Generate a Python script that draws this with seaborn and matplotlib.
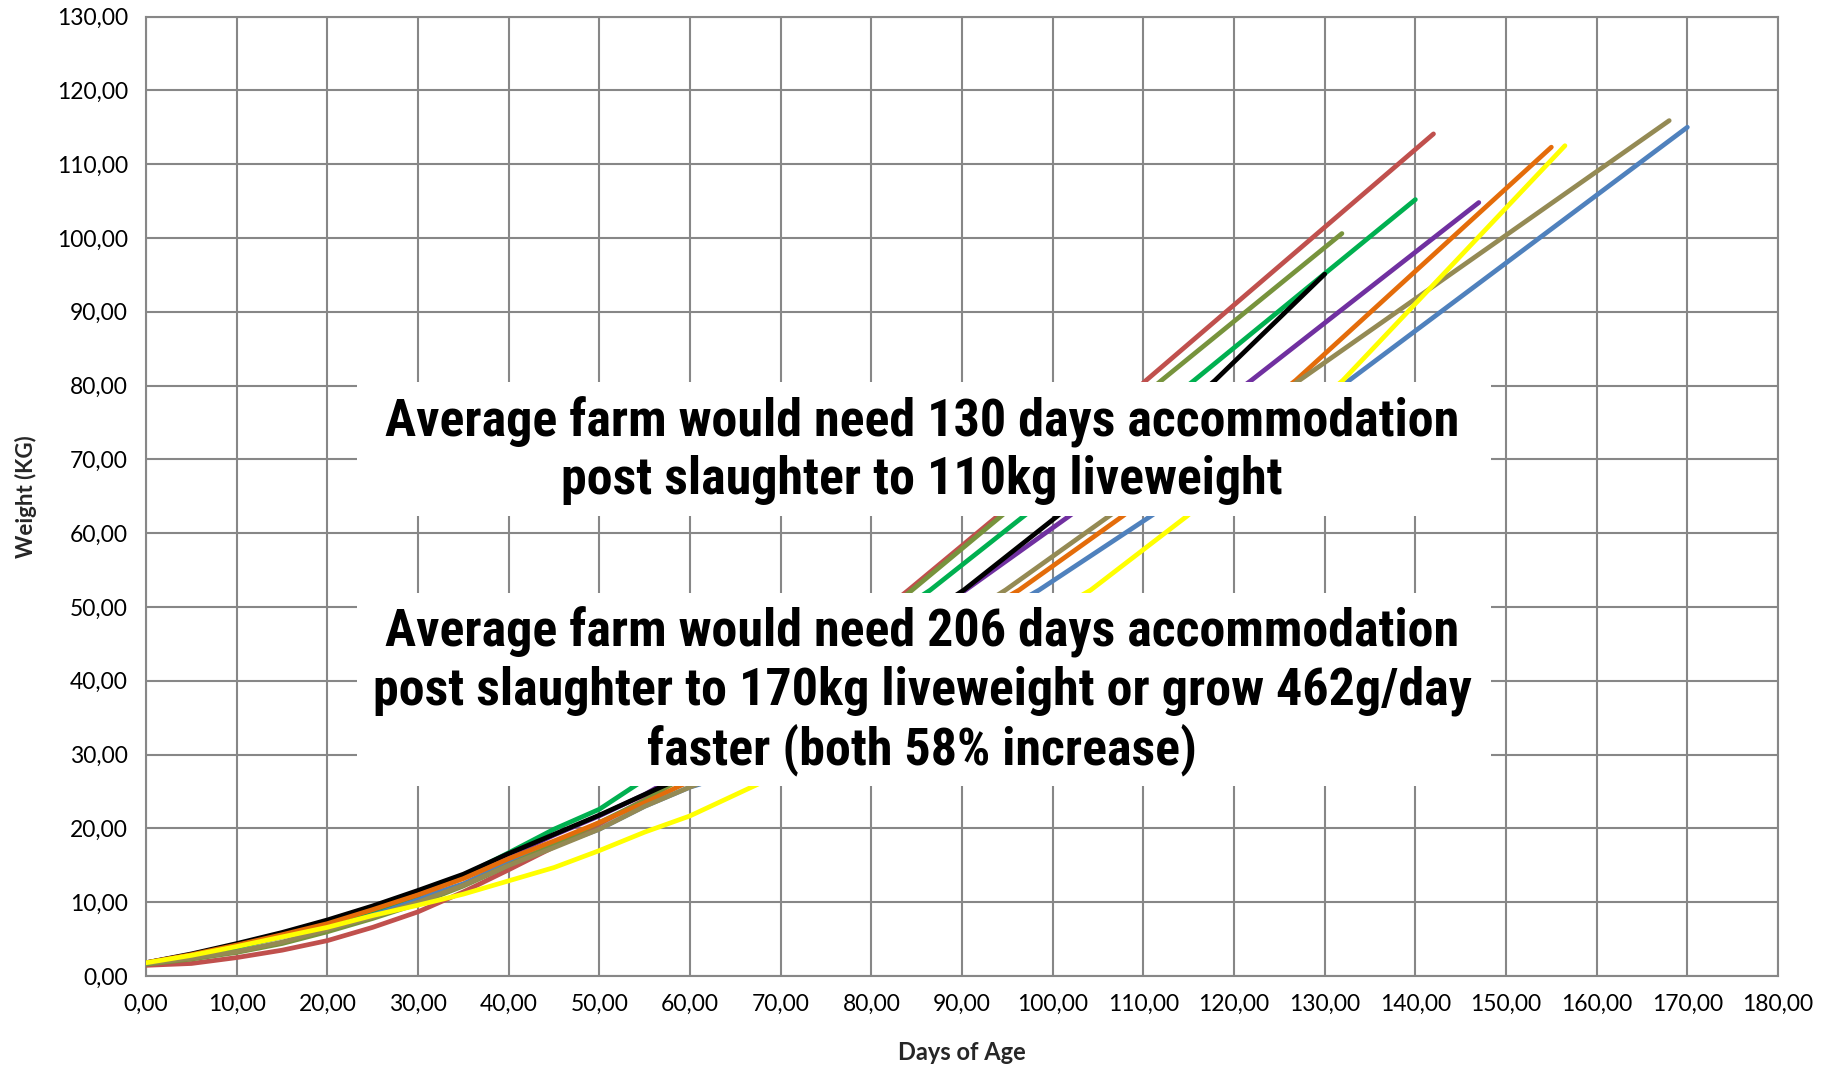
import os
import matplotlib
matplotlib.use("Agg")
import matplotlib.pyplot as plt
from matplotlib import font_manager as fm
from matplotlib.patches import Rectangle
from matplotlib.ticker import FuncFormatter, MultipleLocator
import pandas as pd
import seaborn as sns

# Growth curves per farm: (days of age, liveweight kg)
days_red = [0, 5, 10, 15, 20, 25, 30, 35, 40, 45, 50, 55, 57.5, 84.1, 93.9, 110.3, 142]
kg_red = [1.45, 1.7, 2.5, 3.5, 4.8, 6.6, 8.7, 11.4, 14.4, 17.5, 20.6, 23.9, 26.0, 52.3, 62.3, 80.7, 114.1]

days_olive = [0, 5, 10, 15, 20, 25, 30, 35, 40, 45, 50, 55, 58, 84.5, 94.3, 112.0, 131.9]
kg_olive = [1.6, 2.3, 3.2, 4.4, 6.0, 7.8, 9.8, 12.2, 15.0, 17.8, 20.8, 23.8, 26.0, 52.3, 62.3, 80.7, 100.6]

days_green = [0, 5, 10, 15, 20, 25, 30, 35, 40, 45, 50, 54.2, 86.5, 96.8, 115.6, 140]
kg_green = [1.7, 2.7, 3.9, 5.4, 7.0, 8.9, 11.0, 13.6, 16.7, 19.9, 22.6, 26.0, 52.3, 62.3, 80.7, 105.2]

days_black = [0, 5, 10, 15, 20, 25, 30, 35, 40, 45, 50, 55, 57.5, 90.2, 100.5, 117.9, 130]
kg_black = [1.8, 3.0, 4.4, 5.9, 7.6, 9.5, 11.6, 13.8, 16.6, 19.2, 21.8, 24.6, 26.0, 52.3, 62.3, 80.7, 95.1]

days_purple = [0, 5, 10, 15, 20, 25, 30, 35, 40, 45, 50, 55, 57.0, 90.4, 101.8, 121.9, 147]
kg_purple = [1.8, 2.9, 4.2, 5.7, 7.2, 9.1, 11.1, 13.4, 16.3, 19.1, 21.7, 24.6, 26.0, 52.3, 62.3, 80.7, 104.8]

days_tan = [0, 5, 10, 15, 20, 25, 30, 35, 40, 45, 50, 55, 60, 60.8, 94.8, 106.2, 127.2, 168]
kg_tan = [1.7, 2.4, 3.3, 4.6, 6.3, 8.0, 10.0, 12.3, 15.0, 17.4, 19.9, 23.0, 25.6, 26.0, 52.3, 62.3, 80.7, 115.9]

days_orange = [0, 5, 10, 15, 20, 25, 30, 35, 40, 45, 50, 55, 59.3, 96.3, 107.7, 126.8, 155]
kg_orange = [1.8, 2.9, 4.2, 5.6, 7.1, 9.0, 11.0, 13.2, 15.9, 18.3, 20.8, 23.5, 26.0, 52.3, 62.3, 80.7, 112.3]

days_blue = [0, 5, 10, 15, 20, 25, 30, 35, 40, 45, 50, 55, 60, 61.1, 98.5, 110.8, 132.7, 170]
kg_blue = [1.7, 2.7, 3.9, 5.3, 6.9, 8.6, 10.5, 12.5, 15.4, 17.6, 19.9, 23.0, 25.6, 26.0, 52.3, 62.3, 80.7, 115.0]

days_yellow = [0, 5, 10, 15, 20, 25, 30, 35, 40, 45, 50, 55, 60, 67.5, 104.2, 114.8, 132, 156.5]
kg_yellow = [1.8, 2.8, 4.0, 5.3, 6.6, 8.2, 9.6, 11.1, 12.9, 14.7, 17.0, 19.5, 21.7, 26.0, 52.3, 62.3, 80.7, 112.5]

farms = ["blue", "red", "olive", "green", "purple", "black", "orange", "tan", "yellow"]
series = {
    "red": (days_red, kg_red),
    "olive": (days_olive, kg_olive),
    "green": (days_green, kg_green),
    "black": (days_black, kg_black),
    "purple": (days_purple, kg_purple),
    "tan": (days_tan, kg_tan),
    "orange": (days_orange, kg_orange),
    "blue": (days_blue, kg_blue),
    "yellow": (days_yellow, kg_yellow),
}
palette = {
    "red": "#C0504D",
    "olive": "#77933C",
    "green": "#00B050",
    "black": "#000000",
    "purple": "#7030A0",
    "tan": "#948A54",
    "orange": "#E46C0A",
    "blue": "#4F81BD",
    "yellow": "#FFFF00",
}

rows = []
for f in farms:
    d, w = series[f]
    for x, y in zip(d, w):
        rows.append({"farm": f, "days": x, "kg": y})
df = pd.DataFrame(rows)

note_top = "Average farm would need 130 days accommodation\npost slaughter to 110kg liveweight"
note_bottom = ("Average farm would need 206 days accommodation\n"
               "post slaughter to 170kg liveweight or grow 462g/day\n"
               "faster (both 58% increase)")


def condensed_bold_font():
    """Find a bold, narrow sans face for the note panels."""
    prefs = ["roboto", "noto sans", "dejavu sans", "liberation", "open sans"]
    best = None
    for f in fm.fontManager.ttflist:
        fn = os.path.basename(f.fname).lower()
        name = f.name.lower()
        narrow = ("condensed" in fn or "narrow" in fn or "condensed" in name
                  or "narrow" in name or f.stretch in ("condensed", "semi-condensed"))
        if not narrow or "extra" in fn or "ultra" in fn:
            continue
        if "italic" in fn or "oblique" in fn or f.style != "normal":
            continue
        if "cjk" in fn or "mono" in fn or "serif" in name:
            continue
        w = f.weight if isinstance(f.weight, int) else 400
        if w < 600 or w > 800:
            continue
        rank = next((i for i, p in enumerate(prefs) if name.startswith(p)), len(prefs))
        key = (rank, abs(w - 700), "semi" in fn)
        if best is None or key < best[0]:
            best = (key, f.fname)
    if best is None:
        return fm.FontProperties(family="DejaVu Sans", weight="bold")
    return fm.FontProperties(fname=best[1])


sns.set_theme(style="white")
plt.rcParams["font.family"] = ["Lato", "DejaVu Sans"]

fig = plt.figure(figsize=(18.33, 10.66), dpi=100)
ax = fig.add_axes([0.0797, 0.0844, 0.8903, 0.9001])

grid_c = "#878787"
sns.lineplot(data=df, x="days", y="kg", hue="farm", hue_order=farms,
             palette=palette, sort=False, estimator=None, legend=False,
             linewidth=3.4, ax=ax, zorder=3)
for ln in ax.get_lines():
    ln.set_solid_capstyle("round")
    ln.set_solid_joinstyle("round")

ax.set_xlim(0, 180)
ax.set_ylim(0, 130)
ax.xaxis.set_major_locator(MultipleLocator(10))
ax.yaxis.set_major_locator(MultipleLocator(10))
fmt = FuncFormatter(lambda v, p: f"{v:.2f}".replace(".", ","))
ax.xaxis.set_major_formatter(fmt)
ax.yaxis.set_major_formatter(fmt)
ax.grid(True, color=grid_c, linewidth=1.5, zorder=0)
ax.set_axisbelow(True)
for s in ax.spines.values():
    s.set_color(grid_c)
    s.set_linewidth(1.5)
ax.tick_params(axis="both", which="major", direction="out", length=7,
               width=1.5, color=grid_c, labelsize=16.5, pad=6,
               labelcolor="black")

ax.set_xlabel("Days of Age", fontsize=17, fontweight="bold", labelpad=19)
ax.set_ylabel("Weight (KG)", fontsize=16, fontweight="bold", labelpad=14)

# white note panels laid over the chart
for (x0, y0, x1, y1) in [(23.3, 62.3, 148.3, 80.5), (23.3, 25.8, 148.3, 51.9)]:
    ax.add_patch(Rectangle((x0, y0), x1 - x0, y1 - y0, facecolor="white",
                           edgecolor="none", zorder=5))

note_font = condensed_bold_font()
note_font.set_size(34)
txt_kw = dict(ha="center", va="center", fontproperties=note_font,
              linespacing=1.19, zorder=6, color="black")
t1 = ax.text(85.6, 71.2, note_top, **txt_kw)
t2 = ax.text(85.6, 38.6, note_bottom, **txt_kw)

# size the note text so its widest line spans about 1075 px
fig.canvas.draw()
r = fig.canvas.get_renderer()
w1 = t1.get_window_extent(r).width
size = 34 * 1075.0 / w1
for t in (t1, t2):
    t.set_fontsize(size)

fig.savefig("out.png", dpi=100)
